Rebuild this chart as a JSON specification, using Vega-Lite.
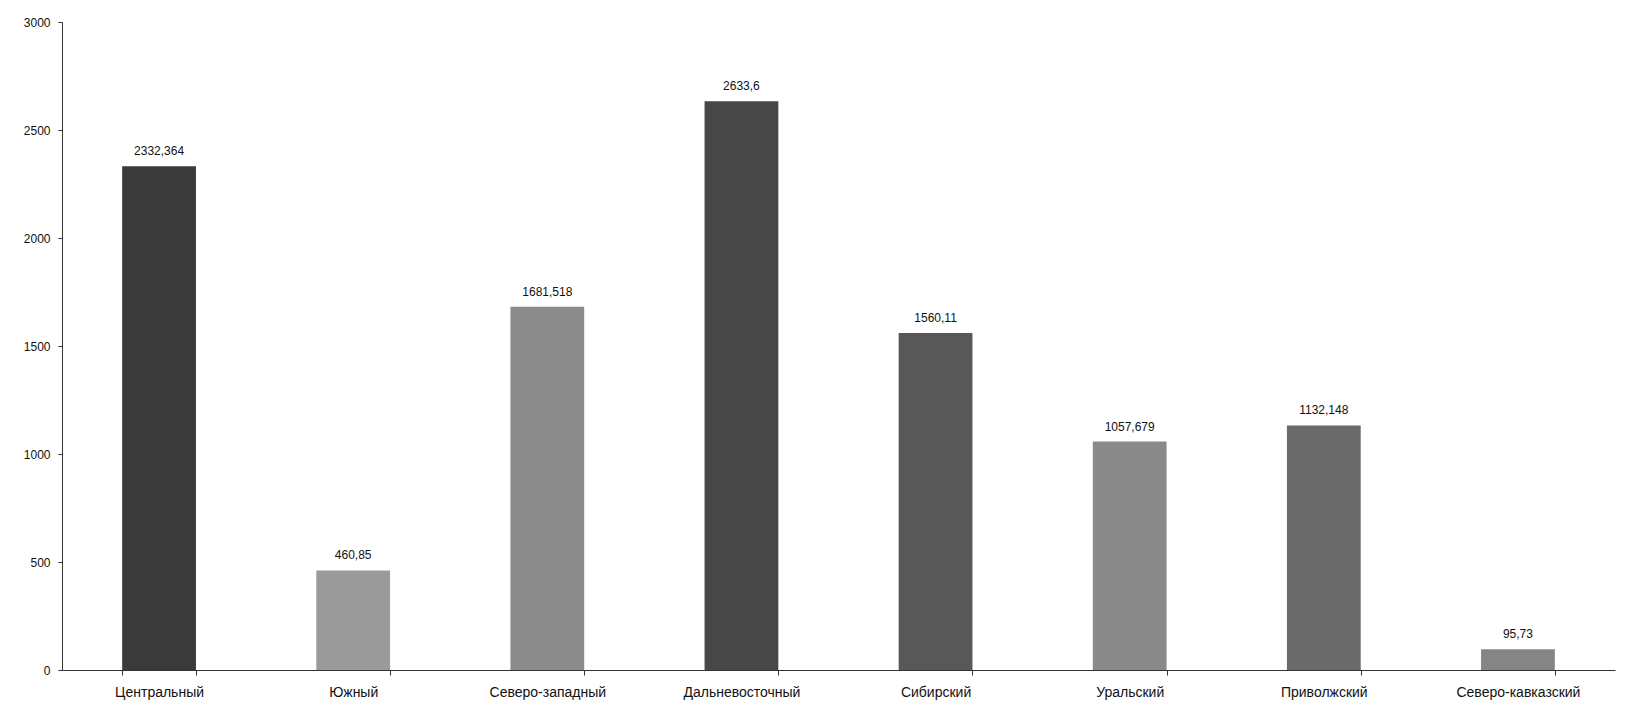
{
  "$schema": "https://vega.github.io/schema/vega-lite/v6.json",
  "autosize": {"type": "none"},
  "width": 1553,
  "height": 648,
  "padding": {"left": 62, "top": 22, "right": 21, "bottom": 50},
  "background": "white",
  "data": {
    "values": [
      {"region": "Центральный", "value": 2332.364, "label": "2332,364", "shade": "#3a3a3a"},
      {"region": "Южный", "value": 460.85, "label": "460,85", "shade": "#9a9a9a"},
      {"region": "Северо-западный", "value": 1681.518, "label": "1681,518", "shade": "#8c8c8c"},
      {"region": "Дальневосточный", "value": 2633.6, "label": "2633,6", "shade": "#474747"},
      {"region": "Сибирский", "value": 1560.11, "label": "1560,11", "shade": "#585858"},
      {"region": "Уральский", "value": 1057.679, "label": "1057,679", "shade": "#8a8a8a"},
      {"region": "Приволжский", "value": 1132.148, "label": "1132,148", "shade": "#6a6a6a"},
      {"region": "Северо-кавказский", "value": 95.73, "label": "95,73", "shade": "#858585"}
    ]
  },
  "encoding": {
    "x": {
      "field": "region",
      "type": "nominal",
      "sort": null,
      "scale": {"paddingInner": 0.62, "paddingOuter": 0.31},
      "axis": {
        "title": null,
        "labelAngle": 0,
        "labelFont": "Liberation Sans",
        "labelFontSize": 14,
        "labelColor": "#111",
        "labelPadding": 10,
        "tickBand": "extent",
        "tickSize": 5,
        "tickColor": "#333",
        "domainColor": "#333",
        "grid": false
      }
    },
    "y": {
      "field": "value",
      "type": "quantitative",
      "scale": {"domain": [0, 3000], "nice": false},
      "axis": {
        "title": null,
        "values": [0, 500, 1000, 1500, 2000, 2500, 3000],
        "format": "d",
        "labelFont": "Liberation Sans",
        "labelFontSize": 12,
        "labelColor": "#111",
        "labelPadding": 8,
        "tickSize": 4,
        "tickColor": "#333",
        "domainColor": "#333",
        "grid": false
      }
    }
  },
  "layer": [
    {
      "mark": {"type": "bar"},
      "encoding": {
        "color": {"field": "shade", "type": "nominal", "scale": null, "legend": null}
      }
    },
    {
      "mark": {"type": "text", "baseline": "bottom", "dy": -8, "font": "Liberation Sans", "fontSize": 12, "color": "#111"},
      "encoding": {"text": {"field": "label"}}
    }
  ],
  "config": {"view": {"stroke": null}}
}
